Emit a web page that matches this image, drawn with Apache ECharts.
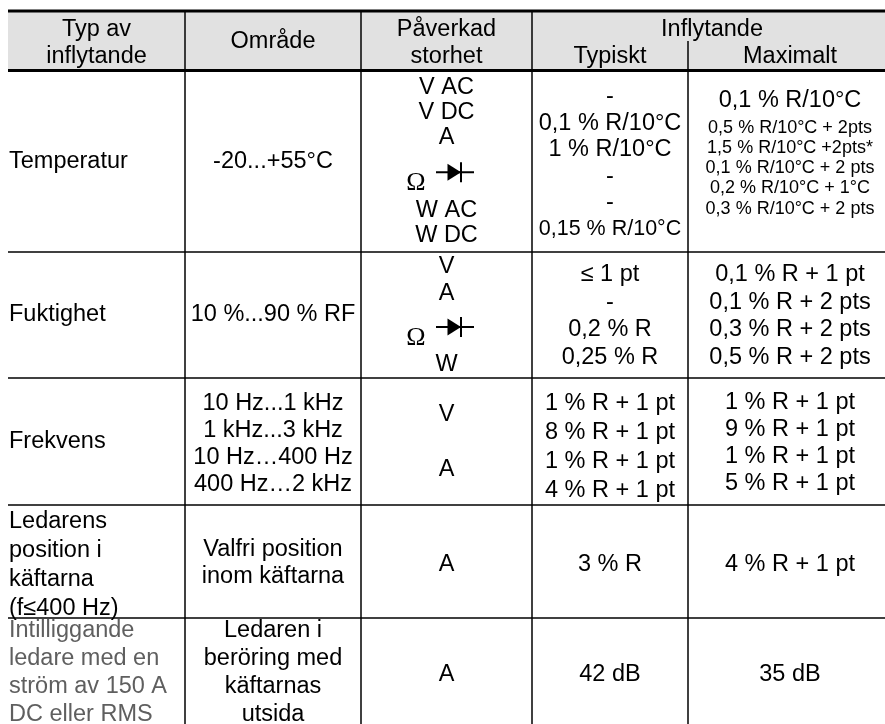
<!DOCTYPE html>
<html>
<head>
<meta charset="utf-8">
<script src="https://cdn.jsdelivr.net/npm/echarts@6/dist/echarts.min.js"></script>
<style>
  html, body { margin: 0; padding: 0; background: #fff; }
  #chart { width: 885px; height: 724px; }
</style>
</head>
<body>
<div id="chart"></div>
<script>
// rubriker
const headMain = ['Typ av\ninflytande', 'Område', 'Påverkad\nstorhet'];
const headGroup = 'Inflytande';
const headSub = ['Typiskt', 'Maximalt'];

// tabellens innehåll, en rad per typ av inflytande
const factors = [
  'Temperatur',
  'Fuktighet',
  'Frekvens',
  'Ledarens\nposition i\nkäftarna\n(f≤400 Hz)',
  'Intilliggande\nledare med en\nström av 150 A\nDC eller RMS'
];
const ranges = [
  '-20...+55°C',
  '10 %...90 % RF',
  '10 Hz...1 kHz\n1 kHz...3 kHz\n10 Hz…400 Hz\n400 Hz…2 kHz',
  'Valfri position\ninom käftarna',
  'Ledaren i\nberöring med\nkäftarnas\nutsida'
];
// 'Ω' = ohm/diod-raden (diodsymbolen ritas bredvid)
const quantities = [
  'V AC\nV DC\nA\nΩ\nW AC\nW DC',
  'V\nA\nΩ\nW',
  'V\nA',
  'A',
  'A'
];
const typical = [
  '-\n0,1 % R/10°C\n1 % R/10°C\n-\n-\n0,15 % R/10°C',
  '≤ 1 pt\n-\n0,2 % R\n0,25 % R',
  '1 % R + 1 pt\n8 % R + 1 pt\n1 % R + 1 pt\n4 % R + 1 pt',
  '3 % R',
  '42 dB'
];
const maximal = [
  '0,1 % R/10°C\n0,5 % R/10°C + 2pts\n1,5 % R/10°C +2pts*\n0,1 % R/10°C + 2 pts\n0,2 % R/10°C + 1°C\n0,3 % R/10°C + 2 pts',
  '0,1 % R + 1 pt\n0,1 % R + 2 pts\n0,3 % R + 2 pts\n0,5 % R + 2 pts',
  '1 % R + 1 pt\n9 % R + 1 pt\n1 % R + 1 pt\n5 % R + 1 pt',
  '4 % R + 1 pt',
  '35 dB'
];
const columns = [factors, ranges, quantities, typical, maximal];

// layout (px i axelenheter)
const colEdges = [8, 185, 361, 532, 688, 892];
const rowEdges = [11, 70.5, 252, 378, 505, 618, 730];
const subHeadTop = 41;
const FONT = '"Liberation Sans", Arial, Helvetica, sans-serif';
const BASE = 23.5;

// radavstånd per cell (tal eller lista per rad i cellen)
const gaps = [
  [27, 27, [25, 25, 25, 48, 25, 25], 26.5, [33.8, 20.2, 20.2, 20.2, 20.2, 20.2]],
  [27, 27, [27, 27, 44, 27], 27.5, 27.5],
  [27, 27, 55, 29.3, 27],
  [29, 27, 27, 27, 27],
  [28, 28, 27, 27, 27]
];
const shifts = [
  [0, 0, 0.5, 1.75, -10],
  [0, 0, 0.5, 1, 1],
  [0.5, 3, 1, 5.5, 2],
  [4, 2, 3, 3, 3],
  [-1, -1, 0.5, 0.5, 0.5]
];
const sizeOverride = {
  '0-3': [BASE, BASE, BASE, BASE, BASE, 21.5],
  '0-4': [BASE, 18, 18, 18, 18, 18]
};

// linjesegment: [x1, y1, x2, y2, bredd]
const segments = [];
segments.push([colEdges[0], rowEdges[0], colEdges[5], rowEdges[0], 3]);
segments.push([colEdges[0], rowEdges[1], colEdges[5], rowEdges[1], 3]);
for (let i = 2; i < rowEdges.length - 1; i++) {
  segments.push([colEdges[0], rowEdges[i], colEdges[5], rowEdges[i], 1.5]);
}
for (let j = 1; j < 5; j++) {
  segments.push([colEdges[j], j === 4 ? subHeadTop : rowEdges[0], colEdges[j], rowEdges[rowEdges.length - 1], 1.5]);
}

const cellData = [];
for (let r = 0; r < factors.length; r++) {
  for (let c = 0; c < columns.length; c++) cellData.push([r, c]);
}

function textEl(api, x, y, text, opt) {
  const p = api.coord([x, y]);
  return {
    type: 'text',
    x: p[0],
    y: p[1],
    style: {
      text: text,
      fontFamily: (opt && opt.family) || FONT,
      fontSize: (opt && opt.size) || BASE,
      fill: (opt && opt.color) || '#000',
      align: (opt && opt.align) || 'center',
      verticalAlign: 'middle'
    }
  };
}

function diode(api, cx, cy) {
  const a = api.coord([cx - 10.5, cy]);
  const b = api.coord([cx + 27.5, cy]);
  const t1 = api.coord([cx + 1, cy - 8.5]);
  const t2 = api.coord([cx + 1, cy + 8.5]);
  const t3 = api.coord([cx + 14.5, cy]);
  const bar1 = api.coord([cx + 14.5, cy - 10]);
  const bar2 = api.coord([cx + 14.5, cy + 10]);
  return [
    { type: 'line', shape: { x1: a[0], y1: a[1], x2: b[0], y2: b[1] }, style: { stroke: '#000', lineWidth: 1.8 } },
    { type: 'polygon', shape: { points: [t1, t2, t3] }, style: { fill: '#000' } },
    { type: 'line', shape: { x1: bar1[0], y1: bar1[1], x2: bar2[0], y2: bar2[1] }, style: { stroke: '#000', lineWidth: 2 } }
  ];
}

function renderCell(params, api) {
  const r = api.value(0);
  const c = api.value(1);
  const lines = columns[c][r].split('\n');
  const g = gaps[r][c];
  const hs = lines.map(function (_, i) { return Array.isArray(g) ? g[i] : g; });
  const total = hs.reduce(function (s, h) { return s + h; }, 0);
  const rowMid = (rowEdges[r + 1] + rowEdges[r + 2]) / 2 + shifts[r][c];
  const sizes = sizeOverride[r + '-' + c];
  const left = c === 0;
  const x = left ? colEdges[0] + 1 : (colEdges[c] + colEdges[c + 1]) / 2;
  const color = (c === 0 && r === 4) ? '#5f5f5f' : '#000';
  let y = rowMid - total / 2;
  const children = [];
  lines.forEach(function (line, i) {
    const cy = y + hs[i] / 2;
    if (line === 'Ω') {
      children.push(textEl(api, x - 30.5, cy + 9, 'Ω', { family: '"Liberation Serif", "DejaVu Serif", serif', size: 26 }));
      diode(api, x, cy - 2).forEach(function (el) { children.push(el); });
    } else {
      children.push(textEl(api, x, cy, line, {
        size: sizes ? sizes[i] : BASE,
        align: left ? 'left' : 'center',
        color: color
      }));
    }
    y += hs[i];
  });
  return { type: 'group', children: children };
}

function renderHeader(params, api) {
  const top = rowEdges[0];
  const bot = rowEdges[1];
  const p1 = api.coord([colEdges[0], top]);
  const p2 = api.coord([colEdges[5], bot]);
  const mid = (top + bot) / 2;
  const children = [{
    type: 'rect',
    shape: { x: p1[0], y: p1[1], width: p2[0] - p1[0], height: p2[1] - p1[1] },
    style: { fill: '#e1e1e1' }
  }];
  headMain.forEach(function (h, c) {
    const cx = (colEdges[c] + colEdges[c + 1]) / 2;
    const ls = h.split('\n');
    if (ls.length === 1) {
      children.push(textEl(api, cx, mid + 1, ls[0]));
    } else {
      children.push(textEl(api, cx, mid + 2.5 - 13.5, ls[0]));
      children.push(textEl(api, cx, mid + 2.5 + 13.5, ls[1]));
    }
  });
  children.push(textEl(api, (colEdges[3] + colEdges[5]) / 2, mid + 2.5 - 13.5, headGroup));
  headSub.forEach(function (h, k) {
    const c = 3 + k;
    children.push(textEl(api, (colEdges[c] + colEdges[c + 1]) / 2, mid + 2.5 + 13.5, h));
  });
  return { type: 'group', children: children };
}

function renderSegment(params, api) {
  const a = api.coord([api.value(0), api.value(1)]);
  const b = api.coord([api.value(2), api.value(3)]);
  return {
    type: 'line',
    shape: { x1: a[0], y1: a[1], x2: b[0], y2: b[1] },
    style: { stroke: '#000', lineWidth: api.value(4) }
  };
}

const chart = echarts.init(document.getElementById('chart'), null, { renderer: 'canvas' });
chart.setOption({
  animation: false,
  backgroundColor: '#fff',
  grid: { left: 0, right: 0, top: 0, bottom: 0 },
  xAxis: { type: 'value', min: 0, max: 885, show: false },
  yAxis: { type: 'value', min: 0, max: 724, inverse: true, show: false },
  series: [
    { type: 'custom', name: 'header', silent: true, clip: false, renderItem: renderHeader, data: [[0, 0]] },
    { type: 'custom', name: 'cells', silent: true, clip: false, renderItem: renderCell, data: cellData },
    { type: 'custom', name: 'lines', silent: true, clip: false, renderItem: renderSegment, data: segments }
  ]
});
</script>
</body>
</html>
